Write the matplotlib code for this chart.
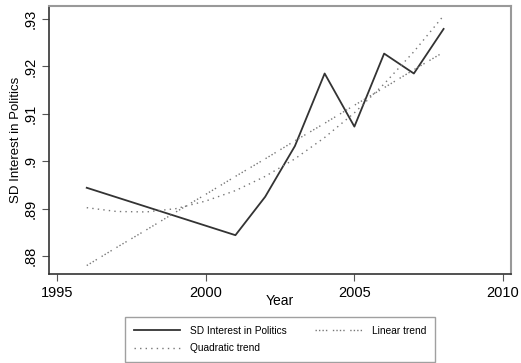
import matplotlib
matplotlib.use("Agg")
import matplotlib.pyplot as plt

# valores
anos = [1996, 2001, 2002, 2003, 2004, 2005, 2006, 2007, 2008]
sd_interest = [0.8944, 0.8844, 0.8925, 0.9032, 0.9185, 0.9073, 0.9227, 0.9185, 0.9279]

anos_trend = [1996, 1997, 1998, 1999, 2000, 2001, 2002, 2003, 2004, 2005, 2006, 2007, 2008]
linear_trend = [0.8780, 0.8818, 0.8855, 0.8893, 0.8930, 0.8968, 0.9005,
                0.9043, 0.9080, 0.9118, 0.9155, 0.9193, 0.9230]
quad_trend = [0.8902, 0.8894, 0.8893, 0.8900, 0.8916, 0.8938, 0.8968,
              0.9005, 0.9050, 0.9102, 0.9163, 0.9231, 0.9307]

x_ticks = [1995, 2000, 2005, 2010]
y_ticks = [0.88, 0.89, 0.90, 0.91, 0.92, 0.93]
y_labels = [".88", ".89", ".9", ".91", ".92", ".93"]

plt.rcParams['font.family'] = ['Liberation Sans', 'DejaVu Sans']

fig = plt.figure(figsize=(5.21, 3.63), dpi=100)
ax = fig.add_axes([0.094, 0.245, 0.887, 0.738])

l1, = ax.plot(anos, sd_interest, color='#333333', lw=1.3, label='SD Interest in Politics')
l2, = ax.plot(anos_trend, linear_trend, color='#777777', lw=1.0,
              linestyle=(0, (1, 1.5, 1, 1.5, 1, 1.5, 1, 4)), label='Linear trend')
l3, = ax.plot(anos_trend, quad_trend, color='#777777', lw=1.0,
              linestyle=(0, (1, 3)), label='Quadratic trend')

ax.set_xlim(1994.73, 2010.27)
ax.set_ylim(0.8762, 0.9327)
ax.set_xticks(x_ticks)
ax.set_xticklabels([str(t) for t in x_ticks], fontsize=10.5)
ax.set_yticks(y_ticks)
ax.set_yticklabels(y_labels, fontsize=10.5, rotation=90, va='center')
ax.tick_params(direction='out', length=5, width=0.8, color='#555555')
ax.set_xlabel('Year', fontsize=10, labelpad=-4)
ax.set_ylabel('SD Interest in Politics', fontsize=9.5, labelpad=1)

for s in ['left', 'bottom']:
    ax.spines[s].set_color('#333333')
    ax.spines[s].set_linewidth(1.2)
for s in ['top', 'right']:
    ax.spines[s].set_color('#999999')
    ax.spines[s].set_linewidth(1.5)

leg = fig.legend([l1, l3, l2], [l1.get_label(), l3.get_label(), l2.get_label()],
                 ncol=2, loc='upper left', bbox_to_anchor=(0.240, 0.0, 0.595, 0.127),
                 mode='expand', fontsize=7.3, frameon=True, fancybox=False,
                 handlelength=4.6, handletextpad=1.0, borderpad=0.85,
                 labelspacing=0.75, columnspacing=2.0, borderaxespad=0)
leg.get_frame().set_edgecolor('#888888')
leg.get_frame().set_linewidth(1.0)

fig.savefig('out.png', dpi=100)
